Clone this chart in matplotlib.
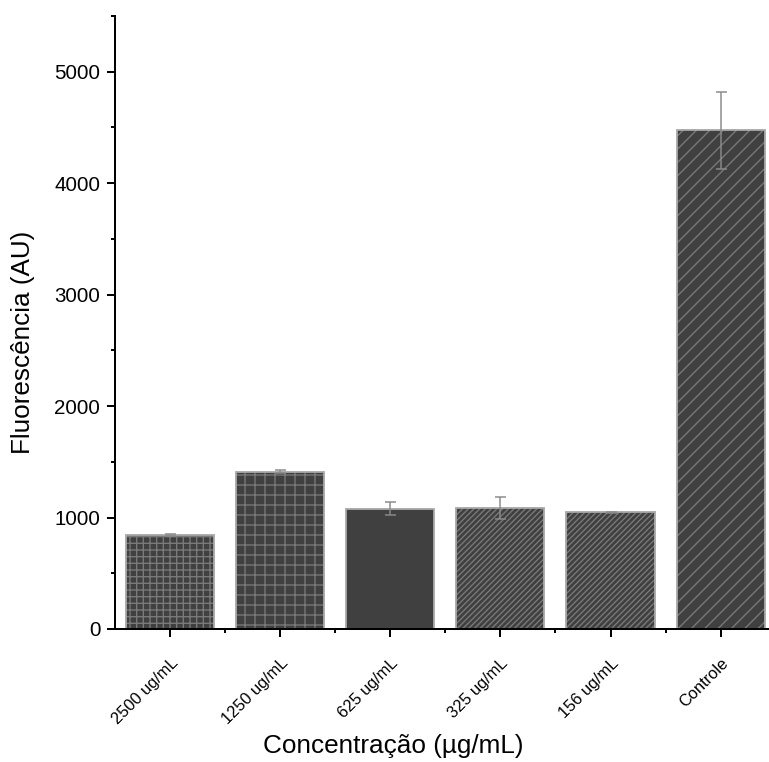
import matplotlib
matplotlib.use("Agg")
import matplotlib.pyplot as plt
from matplotlib.ticker import MultipleLocator, FixedLocator
import numpy as np

plt.rcParams['font.family'] = ['Liberation Sans', 'DejaVu Sans']
plt.rcParams['hatch.linewidth'] = 0.8

categories = ["2500 ug/mL", "1250 ug/mL", "625 ug/mL", "325 ug/mL", "156 ug/mL", "Controle"]
fluorescence = [846, 1412, 1077, 1084, 1048, 4475]
errors = [10, 15, 58, 96, 5, 345]
hatches = ['+++', '++', '', '///////', '///////', '///']

DPI = 120
W, H = 769, 762
fig = plt.figure(figsize=(W / DPI, H / DPI), dpi=DPI)
ax = fig.add_axes([115 / W, 1 - 629 / H, 653 / W, 613 / H])

x = np.arange(len(categories))
# filled bars carrying the hatch pattern
bars = ax.bar(x, fluorescence, width=0.8, color='#404040', edgecolor='#7a7a7a',
              linewidth=0, zorder=2)
for b, h in zip(bars, hatches):
    b.set_hatch(h)
# light outline on top
ax.bar(x, fluorescence, width=0.8, fill=False, edgecolor='#a8a8a8',
       linewidth=1.1, zorder=2.5)

ax.errorbar(x, fluorescence, yerr=errors, fmt='none', ecolor='#8a8a8a',
            elinewidth=0.9, capsize=3.3, capthick=0.9, zorder=3)

ax.set_xlim(-0.5, 5.43)
ax.set_ylim(0, 5500)

ax.spines['top'].set_visible(False)
ax.spines['right'].set_visible(False)
for s in ('left', 'bottom'):
    ax.spines[s].set_linewidth(1.2)

ax.yaxis.set_major_locator(FixedLocator([0, 1000, 2000, 3000, 4000, 5000]))
ax.yaxis.set_minor_locator(MultipleLocator(500))
ax.set_xticks(x)
ax.xaxis.set_minor_locator(FixedLocator(x[:-1] + 0.5))
ax.set_xticklabels(categories, rotation=45, ha='right', rotation_mode='anchor',
                   fontsize=9.8)

ax.tick_params(axis='both', which='major', direction='out', length=4.8, width=1.2,
               colors='black')
ax.tick_params(axis='both', which='minor', direction='out', length=2.6, width=1.2)
ax.tick_params(axis='y', labelsize=12.3, pad=4)
ax.tick_params(axis='x', pad=11)

fig.text(23 / W, 1 - 342.5 / H, "Fluorescência (AU)", rotation=90,
         ha='center', va='center', fontsize=15.7)
fig.text(393.5 / W, 1 - 746 / H, "Concentração (µg/mL)",
         ha='center', va='center', fontsize=15.7)

fig.savefig("out.png", dpi=DPI)
